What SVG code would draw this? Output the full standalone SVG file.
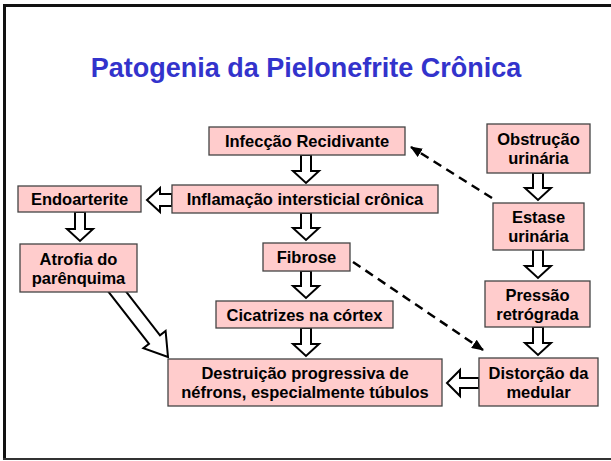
<svg xmlns="http://www.w3.org/2000/svg" width="611" height="461" viewBox="0 0 611 461">
<defs>
<style>
.box{fill:#FFCCCC;stroke:#444;stroke-width:1.3}
.t{font-family:"Liberation Sans",Arial,sans-serif;font-weight:bold;font-size:16.5px;fill:#000;text-anchor:middle}
.blk{fill:#fff;stroke:#000;stroke-width:2;stroke-linejoin:miter}
.dash{fill:none;stroke:#000;stroke-width:2.5;stroke-dasharray:9,6}
</style>
<marker id="ah" markerUnits="userSpaceOnUse" markerWidth="12" markerHeight="10" refX="11" refY="5" orient="auto">
<path d="M0,0 L12,5 L0,10 Z" fill="#000"/>
</marker>
</defs>
<rect width="611" height="461" fill="#fff"/>
<path d="M611,5.5 H4.5 V459" fill="none" stroke="#111" stroke-width="3"/>
<path d="M3,459 H611" fill="none" stroke="#333" stroke-width="2"/>
<text x="306" y="77" font-family="Liberation Sans,Arial,sans-serif" font-weight="bold" font-size="27" fill="#3333CC" text-anchor="middle">Patogenia da Pielonefrite Crônica</text>

<g id="connectors">
<path class="blk" d="M301,155 H311 V171 H319 L306,183 L293,171 H301 Z"/>
<path class="blk" d="M301,213 H311 V228 H319 L306,240 L293,228 H301 Z"/>
<path class="blk" d="M301,271 H311 V286 H319 L306,298 L293,286 H301 Z"/>
<path class="blk" d="M301,328 H311 V344 H319 L306,356 L293,344 H301 Z"/>
<path class="blk" d="M75,212 H85 V229 H93 L80,241 L67,229 H75 Z"/>
<path class="blk" d="M533,173 H543 V188 H551 L538,200 L525,188 H533 Z"/>
<path class="blk" d="M533,250 H543 V266 H551 L538,278 L525,266 H533 Z"/>
<path class="blk" d="M533,327 H543 V343 H551 L538,355 L525,343 H533 Z"/>
<path class="blk" d="M172,194 H160 V188 L147,200 L160,212 V206 H172 Z"/>
<path class="blk" d="M479,378 H460 V370 L447,383 L460,396 V388 H479 Z"/>
<path class="blk" d="M113.7,275.7 L160,335.3 L165.6,331 L168,357 L143.4,348.2 L149,343.9 L102.7,284.3 Z"/>
<line class="dash" x1="492" y1="198" x2="411" y2="147" marker-end="url(#ah)"/>
<line class="dash" x1="353" y1="262" x2="483" y2="350" marker-end="url(#ah)"/>
</g>

<g id="infeccao"><rect class="box" x="209" y="127" width="196" height="28"/><text class="t" x="307" y="147">Infecção Recidivante</text></g>
<g id="obstrucao"><rect class="box" x="487" y="124" width="103" height="49"/><text class="t" x="538.5" y="145">Obstrução</text><text class="t" x="538.5" y="164">urinária</text></g>
<g id="endoarterite"><rect class="box" x="18" y="186" width="123" height="26"/><text class="t" x="79.5" y="205">Endoarterite</text></g>
<g id="inflamacao"><rect class="box" x="172" y="185" width="266" height="28"/><text class="t" x="305" y="205">Inflamação intersticial crônica</text></g>
<g id="estase"><rect class="box" x="493" y="203" width="91" height="47"/><text class="t" x="538.5" y="223">Estase</text><text class="t" x="538.5" y="242">urinária</text></g>
<g id="atrofia"><rect class="box" x="20" y="244" width="117" height="48"/><text class="t" x="78.5" y="264.5">Atrofia do</text><text class="t" x="78.5" y="283.5">parênquima</text></g>
<g id="fibrose"><rect class="box" x="263" y="243" width="87" height="28"/><text class="t" x="306.5" y="263">Fibrose</text></g>
<g id="pressao"><rect class="box" x="485" y="281" width="105" height="46"/><text class="t" x="537.5" y="300.5">Pressão</text><text class="t" x="537.5" y="319.5">retrógrada</text></g>
<g id="cicatrizes"><rect class="box" x="216" y="301" width="177" height="27"/><text class="t" x="304.5" y="320.5">Cicatrizes na córtex</text></g>
<g id="destruicao"><rect class="box" x="168" y="359" width="274" height="47"/><text class="t" x="305" y="379">Destruição progressiva de</text><text class="t" x="305" y="398">néfrons, especialmente túbulos</text></g>
<g id="distorcao"><rect class="box" x="479" y="358" width="119" height="48"/><text class="t" x="538.5" y="378.5">Distorção da</text><text class="t" x="538.5" y="397.5">medular</text></g>
</svg>
